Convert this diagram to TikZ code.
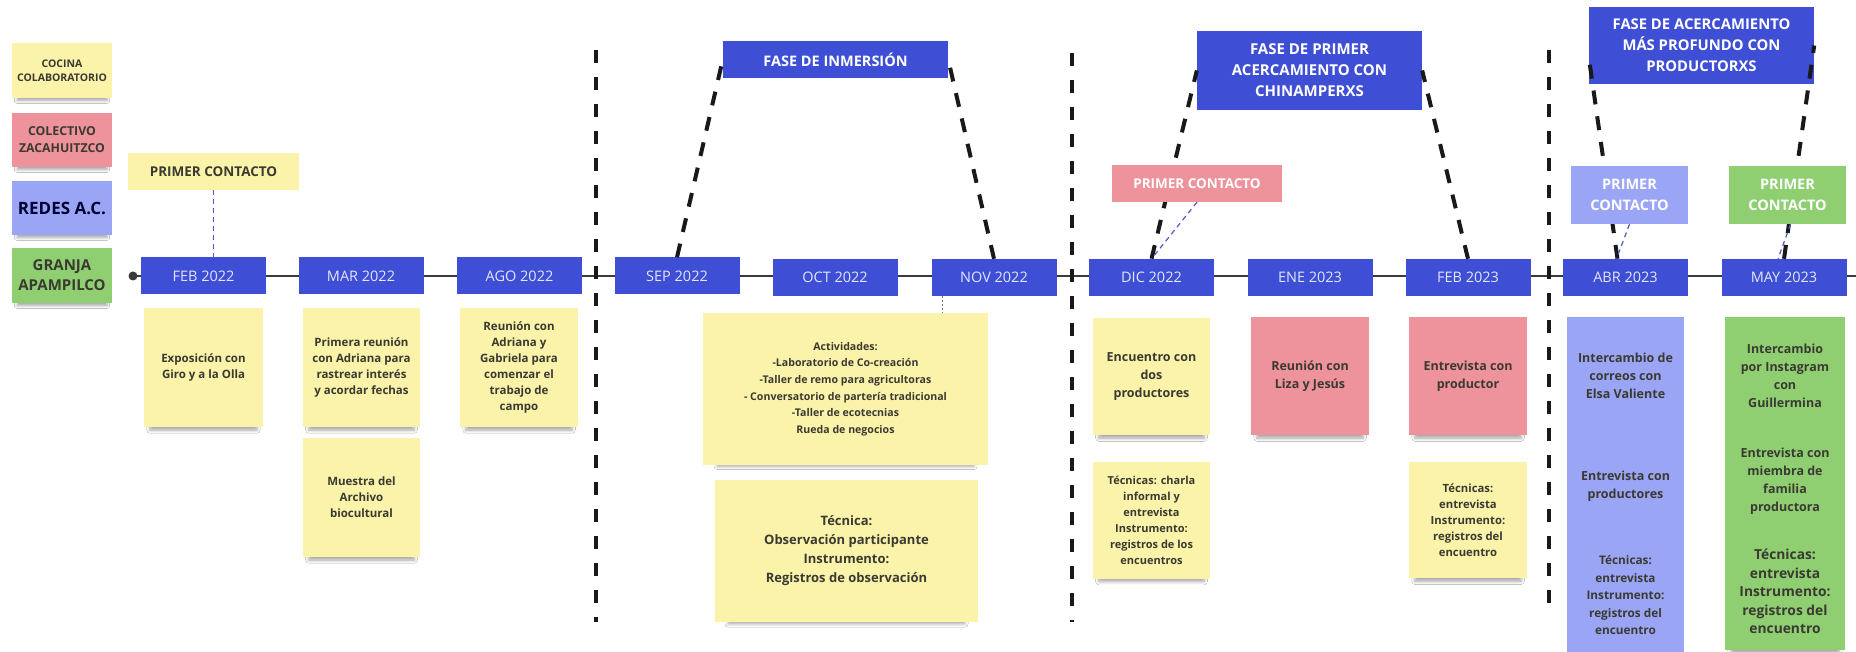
\documentclass[tikz,border=0pt]{standalone}
\usepackage{fontspec}
\setmainfont{Open Sans}
\usetikzlibrary{shadows.blur}

\definecolor{mblue}{HTML}{3E4FD6}
\definecolor{myellow}{HTML}{FAF3A9}
\definecolor{mpink}{HTML}{EE939B}
\definecolor{mlblue}{HTML}{9BA5F6}
\definecolor{mgreen}{HTML}{8FCF72}
\definecolor{mtext}{HTML}{3A3A32}
\definecolor{mlabel}{HTML}{E4E6FA}
\definecolor{mline}{HTML}{3A3A3A}
\definecolor{mlink}{HTML}{4A5AC4}

\tikzset{
  softshadow/.style={blur shadow={shadow xshift=0pt, shadow yshift=-10pt, shadow scale=0.9,
      shadow opacity=35, shadow blur radius=3.5pt, shadow blur steps=6}},
  smallshadow/.style={blur shadow={shadow xshift=0pt, shadow yshift=-6pt, shadow scale=0.9,
      shadow opacity=35, shadow blur radius=3pt, shadow blur steps=6}},
  month/.style={fill=mblue, minimum width=125pt, minimum height=37pt, inner sep=0pt,
      text=mlabel, font=\fontsize{14.5}{17}\selectfont},
  phase/.style={fill=mblue, minimum width=225pt, inner sep=0pt, text=white, align=center,
      font=\bfseries\fontsize{14.5}{21}\selectfont},
  legend/.style={minimum width=100pt, inner sep=0pt, align=center, text=mtext, smallshadow},
  contact/.style={inner sep=0pt, align=center, font=\bfseries\fontsize{13.5}{21}\selectfont},
  note/.style={fill=myellow, inner sep=0pt, align=center, text=mtext,
      font=\bfseries\fontsize{11.5}{16}\selectfont, softshadow},
  bignote/.style={note, font=\bfseries\fontsize{12.5}{18}\selectfont},
  axis/.style={draw=mline, line width=2pt},
  separator/.style={draw=black!90, line width=4pt, dash pattern=on 13pt off 14pt},
  phaselink/.style={draw=black!90, line width=4pt, dash pattern=on 14pt off 12pt},
  contactlink/.style={draw=mlink, line width=1.2pt, dash pattern=on 5pt off 4pt},
  noteleader/.style={draw=black!55, line width=1pt, dash pattern=on 2pt off 2pt},
}

\begin{document}
\begin{tikzpicture}[x=1pt,y=-1pt]
\useasboundingbox (0,0) rectangle (1856,652);
\fill[white] (0,0) rectangle (1856,652);

% ---- legend ----
\node[legend, fill=myellow, minimum height=55pt, font=\bfseries\fontsize{10.5}{14}\selectfont]
  (lg1) at (62,70.5) {COCINA\\COLABORATORIO};
\node[legend, fill=mpink, minimum height=54pt, font=\bfseries\fontsize{12.3}{17}\selectfont]
  (lg2) at (62,140) {COLECTIVO\\ZACAHUITZCO};
\node[legend, fill=mlblue, minimum height=54pt, text=black!80!blue, font=\bfseries\fontsize{17}{20}\selectfont]
  (lg3) at (62,208) {REDES A.C.};
\node[legend, fill=mgreen, minimum height=55pt, font=\bfseries\fontsize{15}{20}\selectfont]
  (lg4) at (62,275.5) {GRANJA\\APAMPILCO};

% ---- period separators ----
\coordinate (s1a) at (596,50);   \coordinate (s1b) at (596,622);
\coordinate (s2a) at (1072,53);  \coordinate (s2b) at (1072,622);
\coordinate (s3a) at (1549,50);  \coordinate (s3b) at (1549,613);

% ---- time axis ----
\coordinate (t0) at (133,276);
\coordinate (t1) at (1856,276);
\draw[axis] (t0) -- (t1);
\fill[mline] (t0) circle (4.5pt);

\draw[separator] (s1a) -- (s1b);
\draw[separator] (s2a) -- (s2b);
\draw[separator] (s3a) -- (s3b);

% ---- months ----
\node[month] (feb22) at (203.5,276) {FEB 2022};
\node[month] (mar22) at (361,276)   {MAR 2022};
\node[month] (ago22) at (519.5,276) {AGO 2022};
\node[month] (sep22) at (677,276)   {SEP 2022};
\node[month] (oct22) at (835,277.5) {OCT 2022};
\node[month] (nov22) at (994,277.5) {NOV 2022};
\node[month] (dic22) at (1151.5,277.5) {DIC 2022};
\node[month] (ene23) at (1310,277.5) {ENE 2023};
\node[month] (feb23) at (1468,277.5) {FEB 2023};
\node[month] (abr23) at (1625.5,277.5) {ABR 2023};
\node[month] (may23) at (1784,277.5) {MAY 2023};

% ---- phases ----
\node[phase, minimum height=37pt] (ph1) at (835.5,59.5) {FASE DE INMERSIÓN};
\node[phase, minimum height=79pt, font=\bfseries\fontsize{15}{21}\selectfont]
  (ph2) at (1309.5,70.5) {FASE DE PRIMER\\ACERCAMIENTO CON\\CHINAMPERXS};
\node[phase, minimum height=77pt, font=\bfseries\fontsize{14.8}{21}\selectfont]
  (ph3) at (1701.5,45.5) {FASE DE ACERCAMIENTO\\MÁS PROFUNDO CON\\PRODUCTORXS};

\draw[phaselink] (sep22.north) -- (ph1.west);
\draw[phaselink] (nov22.north) -- (ph1.east);
\draw[phaselink] (dic22.north) -- (ph2.west);
\draw[phaselink] (feb23.north) -- (ph2.east);
\draw[phaselink] ([xshift=-8pt]abr23.north) -- ([yshift=-12pt]ph3.west);
\draw[phaselink] (may23.north) -- (ph3.east);

% ---- first contacts ----
\node[contact, fill=myellow, text=mtext, minimum width=171pt, minimum height=37pt]
  (c1) at (213.5,171.5) {PRIMER CONTACTO};
\node[contact, fill=mpink, text=white, minimum width=170pt, minimum height=37pt]
  (c2) at (1197,183.5) {PRIMER CONTACTO};
\node[contact, fill=mlblue, text=white, minimum width=117pt, minimum height=58pt,
  font=\bfseries\fontsize{14.5}{21}\selectfont]
  (c3) at (1629.5,195) {PRIMER\\CONTACTO};
\node[contact, fill=mgreen, text=white, minimum width=117pt, minimum height=58pt,
  font=\bfseries\fontsize{14.5}{21}\selectfont]
  (c4) at (1787.5,195) {PRIMER\\CONTACTO};

\draw[contactlink] (c1.south) -- (c1.south |- feb22.north);
\draw[contactlink] (c2.south) -- (dic22.north);
\draw[contactlink] (c3.south) -- ([xshift=-9pt]abr23.north);
\draw[contactlink] ([xshift=3pt]c4.south) -- ([xshift=-6pt]may23.north);

% ---- notes: 2022 ----
\node[note, minimum width=119pt, minimum height=119pt] (n1) at (203.5,367.5)
  {Exposición con\\Giro y a la Olla};
\node[note, minimum width=117pt, minimum height=119pt] (n2) at (361.5,367.5)
  {Primera reunión\\con Adriana para\\rastrear interés\\y acordar fechas};
\node[note, minimum width=117pt, minimum height=119pt] (n3) at (361.5,497.5)
  {Muestra del\\Archivo\\biocultural};
\node[note, minimum width=118pt, minimum height=119pt] (n4) at (519,367.5)
  {Reunión con\\Adriana y\\Gabriela para\\comenzar el\\trabajo de\\campo};

\node[note, minimum width=285pt, minimum height=152pt, font=\bfseries\fontsize{10.6}{16.7}\selectfont]
  (act) at (845.5,389)
  {Actividades:\\-Laboratorio de Co-creación\\-Taller de remo para agricultoras\\- Conversatorio de partería tradicional\\-Taller de ecotecnias\\Rueda de negocios};
\node[note, minimum width=263pt, minimum height=142pt, font=\bfseries\fontsize{13}{19}\selectfont]
  (tec) at (846.5,551)
  {Técnica:\\Observación participante\\Instrumento:\\Registros de observación};
\draw[noteleader] ([xshift=-52pt]nov22.south) -- ([xshift=-52pt]nov22.south |- act.north);

% ---- notes: Dec 2022 - Feb 2023 ----
\node[bignote, minimum width=117pt, minimum height=117pt] (n5) at (1151.5,376.5)
  {Encuentro con\\dos\\productores};
\node[note, minimum width=117pt, minimum height=117pt, font=\bfseries\fontsize{11}{16}\selectfont]
  (n6) at (1151.5,520)
  {Técnicas: charla\\informal y\\entrevista\\Instrumento:\\registros de los\\encuentros};
\node[bignote, fill=mpink, minimum width=118pt, minimum height=118pt] (n7) at (1310,376)
  {Reunión con\\Liza y Jesús};
\node[bignote, fill=mpink, minimum width=118pt, minimum height=118pt] (n8) at (1468,376)
  {Entrevista con\\productor};
\node[note, minimum width=118pt, minimum height=116pt, font=\bfseries\fontsize{11.3}{16}\selectfont]
  (n9) at (1468,520)
  {Técnicas:\\entrevista\\Instrumento:\\registros del\\encuentro};

% ---- notes: Apr - May 2023 ----
\node[bignote, fill=mlblue, minimum width=117pt, minimum height=117pt] (n10) at (1625.5,375.5)
  {Intercambio de\\correos con\\Elsa Valiente};
\node[bignote, fill=mlblue, minimum width=117pt, minimum height=117pt] (n11) at (1625.5,486.5)
  {Entrevista con\\productores};
\node[bignote, fill=mlblue, minimum width=117pt, minimum height=117pt, font=\bfseries\fontsize{11.8}{17.5}\selectfont]
  (n12) at (1625.5,595.5)
  {Técnicas:\\entrevista\\Instrumento:\\registros del\\encuentro};

\node[bignote, fill=mgreen, minimum width=120pt, minimum height=117pt] (n13) at (1785,375.5)
  {Intercambio\\por Instagram\\con\\Guillermina};
\node[bignote, fill=mgreen, minimum width=120pt, minimum height=117pt] (n14) at (1785,481.5)
  {Entrevista con\\miembra de\\familia\\productora};
\node[bignote, fill=mgreen, minimum width=120pt, minimum height=117pt, font=\bfseries\fontsize{13.8}{18.4}\selectfont]
  (n15) at (1785,591.5)
  {Técnicas:\\entrevista\\Instrumento:\\registros del\\encuentro};
\end{tikzpicture}
\end{document}
